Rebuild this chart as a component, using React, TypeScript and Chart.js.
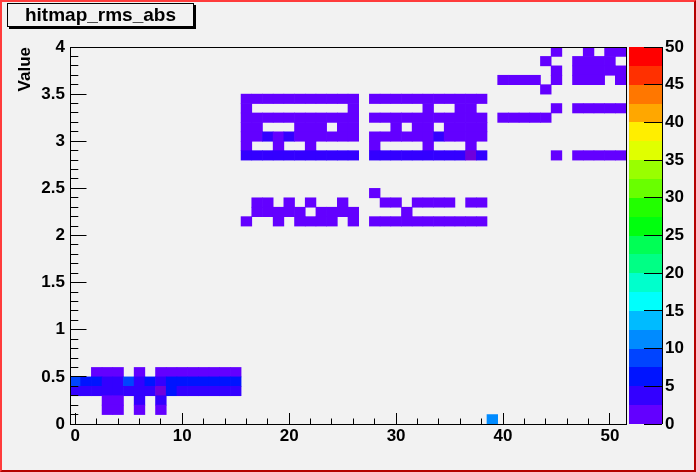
import React, { useEffect, useRef } from 'react';
import { Chart, registerables } from 'chart.js';

Chart.register(...registerables);

// ---- axis ranges ----
const X_MIN = -0.5;
const X_MAX = 51.5;
const Y_MIN = 0;
const Y_MAX = 4;
const Z_MIN = 0;
const Z_MAX = 50;
const BIN_H = 0.1;
const Z_STEP = 2.5; // 20 contour levels

const xTickValues = [0, 10, 20, 30, 40, 50];
const yTickValues = [0, 0.5, 1, 1.5, 2, 2.5, 3, 3.5, 4];
const zTickValues = [0, 5, 10, 15, 20, 25, 30, 35, 40, 45, 50];

// ROOT palette colours for the 20 contour levels (low -> high)
const PALETTE = [
  'rgb(99,0,255)', 'rgb(51,0,255)', 'rgb(0,20,255)', 'rgb(0,68,255)', 'rgb(0,139,255)',
  'rgb(0,187,255)', 'rgb(0,255,252)', 'rgb(0,255,204)', 'rgb(0,255,133)', 'rgb(0,255,85)',
  'rgb(0,255,14)', 'rgb(34,255,0)', 'rgb(105,255,0)', 'rgb(153,255,0)', 'rgb(224,255,0)',
  'rgb(255,238,0)', 'rgb(255,167,0)', 'rgb(255,119,0)', 'rgb(255,48,0)', 'rgb(255,0,0)',
];
const UNDERFLOW_COLOR = 'rgb(112,0,220)';

// ---- histogram contents: one entry per non-empty row (lower bin edge) ----
const rowY = [3.9, 3.8, 3.7, 3.6, 3.5, 3.4, 3.3, 3.2, 3.1, 3.0, 2.9, 2.8, 2.4, 2.3, 2.2, 2.1, 0.5, 0.4, 0.3, 0.2, 0.1, 0.0];

const rowCols = [
  [45, 48, 50, 51],
  [44, 47, 48, 49, 50],
  [45, 47, 48, 49, 50, 51],
  [40, 41, 42, 43, 45, 47, 48, 49, 51],
  [44],
  [16, 17, 18, 19, 20, 21, 22, 23, 24, 25, 26, 28, 29, 30, 31, 32, 33, 34, 35, 36, 37, 38],
  [16, 26, 33, 36, 37, 45, 47, 48, 49, 50, 51],
  [16, 17, 18, 19, 20, 21, 22, 23, 24, 25, 26, 28, 29, 30, 31, 32, 33, 34, 35, 36, 37, 38, 40, 41, 42, 43, 44],
  [16, 17, 21, 22, 23, 25, 26, 30, 32, 33, 35, 36, 37, 38],
  [16, 17, 18, 19, 20, 21, 22, 23, 24, 25, 26, 28, 29, 30, 31, 32, 33, 34, 35, 36, 37, 38],
  [16, 19, 22, 28, 33, 37],
  [16, 17, 18, 19, 20, 21, 22, 23, 24, 25, 26, 28, 29, 30, 31, 32, 33, 34, 35, 36, 37, 38, 45, 47, 48, 49, 50, 51],
  [28],
  [17, 18, 20, 22, 25, 29, 30, 32, 33, 34, 35, 37, 38],
  [17, 18, 19, 20, 21, 23, 24, 25, 26, 31],
  [16, 19, 21, 22, 23, 24, 26, 28, 29, 30, 31, 32, 33, 34, 35, 36, 37, 38],
  [2, 3, 4, 6, 8, 9, 10, 11, 12, 13, 14, 15],
  [0, 1, 2, 3, 4, 5, 6, 7, 8, 9, 10, 11, 12, 13, 14, 15],
  [0, 1, 2, 3, 4, 5, 6, 7, 8, 9, 10, 11, 12, 13, 14, 15],
  [3, 4, 6, 8],
  [3, 4, 6, 8],
  [39],
];

const rowVals = [
  [1, 1, 1, 1],
  [1, 1, 1, 1, 1],
  [1, 1, 1, 1, 1, 1],
  [1, 1, 1, 1, 1, 1, 1, 1, 1],
  [1],
  [1, 1, 1, 1, 1, 1, 1, 1, 1, 1, 1, 1, 1, 1, 1, 1, 1, 1, 1, 1, 1, 1],
  [1, 1, 1, 1, 1, 1, 1, 1, 1, 1, 1],
  [1, 1, 1, 1, 1, 1, 1, 1, 1, 1, 1, 1, 1, 1, 1, 1, 1, 1, 1, 1, 1, 1, 1, 1, 1, 1, 1],
  [1, 1, 1, 1, 1, 1, 1, 1, 1, 1, 1, 1, 1, 1],
  [1, 1, 3.5, 1, 3.5, 1, 1, 1, 1, 1, 1, 1, 1, 1, 1, 1, 1, 3.5, 1, 1, 1, 1],
  [1, 1, 1, 1, 1, 1],
  [3.5, 3.5, 3.5, 3.5, 3.5, 3.5, 3.5, 3.5, 3.5, 3.5, 3.5, 3.5, 3.5, 3.5, 3.5, 3.5, 3.5, 3.5, 3.5, 3.5, -0.5, 3.5, 1, 1, 1, 1, 1, 1],
  [1],
  [1, 1, 1, 1, 1, 1, 1, 1, 1, 1, 1, 1, 1],
  [1, 1, 1, 1, 1, 1, 1, 1, 1, 1],
  [1, 1, 1, 1, 1, 1, 1, 1, 1, 1, 1, 1, 1, 1, 1, 1, 1, 1],
  [1, 1, 1, 1, 1, 1, 1, 1, 1, 1, 1, 1],
  [9, 6, 6, 3.5, 3.5, 9, 3.5, 6, 3.5, 6, 6, 6, 6, 6, 6, 6],
  [3.5, 3.5, 3.5, 3.5, 3.5, 3.5, 3.5, 3.5, -0.5, 6, 3.5, 3.5, 3.5, 3.5, 3.5, 3.5],
  [1, 1, 3.5, 3.5],
  [1, 1, 1, 1],
  [11],
];

function colorFor(v: number): string {
  if (v < Z_MIN) return UNDERFLOW_COLOR;
  const k = Math.min(PALETTE.length - 1, Math.floor((v - Z_MIN) / Z_STEP));
  return PALETTE[k];
}

const FONT = 'Liberation Sans, Arial, Helvetica, sans-serif';

const rootDecor = {
  id: 'rootDecor',
  afterDatasetsDraw(chart: any) {
    const { ctx, chartArea: a, scales } = chart;
    const x = scales.x;
    const y = scales.y;
    const z = scales.z;
    const c = (p: number) => Math.round(p - 0.5) + 0.5;
    ctx.save();
    ctx.strokeStyle = '#000';
    ctx.lineWidth = 1;
    // frame
    ctx.strokeRect(c(a.left), c(a.top), Math.round(a.right - a.left), Math.round(a.bottom - a.top));
    ctx.beginPath();
    // x ticks (inward)
    for (let v = 0; v <= X_MAX; v += 2) {
      const len = v % 10 === 0 ? 11 : 5.5;
      const px = c(x.getPixelForValue(v));
      ctx.moveTo(px, a.bottom);
      ctx.lineTo(px, a.bottom - len);
    }
    // y ticks (inward)
    for (let k = 0; k <= 40; k++) {
      const v = k * BIN_H;
      const len = k % 5 === 0 ? 16.5 : 8.3;
      const py = c(y.getPixelForValue(v));
      ctx.moveTo(a.left, py);
      ctx.lineTo(a.left + len, py);
    }
    ctx.stroke();

    // colour bar
    const bx0 = a.right + 3;
    const bx1 = a.right + 36;
    for (let i = 0; i < PALETTE.length; i++) {
      const lo = Z_MIN + i * Z_STEP;
      const t = z.getPixelForValue(lo + Z_STEP);
      const b = z.getPixelForValue(lo);
      ctx.fillStyle = PALETTE[i];
      ctx.fillRect(bx0, Math.round(t), bx1 - bx0, Math.round(b) - Math.round(t));
    }
    ctx.beginPath();
    for (const v of zTickValues) {
      const py = c(z.getPixelForValue(v));
      ctx.moveTo(a.right + 18, py);
      ctx.lineTo(bx1, py);
    }
    ctx.moveTo(c(bx1), a.top);
    ctx.lineTo(c(bx1), a.bottom);
    ctx.stroke();
    ctx.restore();
  },
};

export default function App() {
  const ref = useRef<HTMLCanvasElement>(null);

  useEffect(() => {
    const cells: any[] = [];
    rowY.forEach((yl, i) => {
      rowCols[i].forEach((col, j) => {
        cells.push({ x: col, y: [yl, yl + BIN_H], v: rowVals[i][j] });
      });
    });

    const tickFont = { family: FONT, size: 17, weight: 'bold' as const };

    const chart = new Chart(ref.current as HTMLCanvasElement, {
      type: 'bar',
      data: {
        datasets: [
          {
            data: cells,
            backgroundColor: (ctx: any) => colorFor(ctx.raw ? ctx.raw.v : 0),
            borderWidth: 0,
            barPercentage: 1,
            categoryPercentage: 1,
            grouped: false,
          } as any,
        ],
      },
      options: {
        animation: false,
        responsive: false,
        maintainAspectRatio: false,
        layout: { padding: { top: 47, left: 0, right: 0, bottom: 0 } },
        plugins: {
          legend: { display: false },
          tooltip: { enabled: false },
          title: { display: false },
        },
        scales: {
          x: {
            type: 'linear',
            min: X_MIN,
            max: X_MAX,
            offset: false,
            grid: { display: false, drawTicks: false },
            border: { display: false },
            afterBuildTicks: (s: any) => { s.ticks = xTickValues.map((v) => ({ value: v })); },
            ticks: {
              font: tickFont,
              color: '#000',
              padding: 2,
              maxRotation: 0,
              autoSkip: false,
              callback: (v: any) => String(v),
            },
            afterFit: (s: any) => { s.height = 48; },
          },
          y: {
            type: 'linear',
            min: Y_MIN,
            max: Y_MAX,
            grid: { display: false, drawTicks: false },
            border: { display: false },
            afterBuildTicks: (s: any) => { s.ticks = yTickValues.map((v) => ({ value: v })); },
            ticks: {
              font: tickFont,
              color: '#000',
              padding: 5,
              autoSkip: false,
              callback: (v: any) => String(v),
            },
            title: {
              display: true,
              text: 'Value',
              align: 'end',
              color: '#000',
              font: { family: FONT, size: 17, weight: 'bold' },
              padding: { top: 15, bottom: 0 },
            },
            afterFit: (s: any) => { s.width = 70; },
          },
          z: {
            type: 'linear',
            axis: 'y',
            position: 'right',
            min: Z_MIN,
            max: Z_MAX,
            grid: { display: true, drawOnChartArea: false, drawTicks: true, tickLength: 36, color: 'rgba(0,0,0,0)' },
            border: { display: false },
            afterBuildTicks: (s: any) => { s.ticks = zTickValues.map((v) => ({ value: v })); },
            ticks: {
              font: tickFont,
              color: '#000',
              padding: 3,
              autoSkip: false,
              callback: (v: any) => String(v),
            },
            afterFit: (s: any) => { s.width = 70; },
          } as any,
        },
      } as any,
      plugins: [rootDecor],
    });
    return () => chart.destroy();
  }, []);

  return (
    <div
      style={{
        position: 'fixed',
        left: 0,
        top: 0,
        width: 696,
        height: 472,
        background: 'rgb(242,242,242)',
        overflow: 'hidden',
      }}
    >
      <canvas ref={ref} width={696} height={472} style={{ position: 'absolute', left: 0, top: 0, width: 696, height: 472 }} />
      <div
        style={{
          position: 'absolute',
          left: 7,
          top: 3,
          width: 185,
          height: 22,
          border: '1px solid #000',
          boxShadow: '2px 2px 0 #000',
          background: 'rgb(242,242,242)',
          fontFamily: FONT,
          fontWeight: 'bold',
          fontSize: 19,
          lineHeight: '22px',
          textAlign: 'center',
          color: '#000',
        }}
      >
        hitmap_rms_abs
      </div>
      <div
        style={{
          position: 'absolute',
          left: 0,
          top: 0,
          width: 696,
          height: 472,
          boxSizing: 'border-box',
          borderTop: '2px solid rgb(255,60,60)',
          borderLeft: '2px solid rgb(255,60,60)',
          borderBottom: '2px solid rgb(180,0,0)',
          borderRight: '2px solid rgb(180,0,0)',
          pointerEvents: 'none',
        }}
      />
    </div>
  );
}
